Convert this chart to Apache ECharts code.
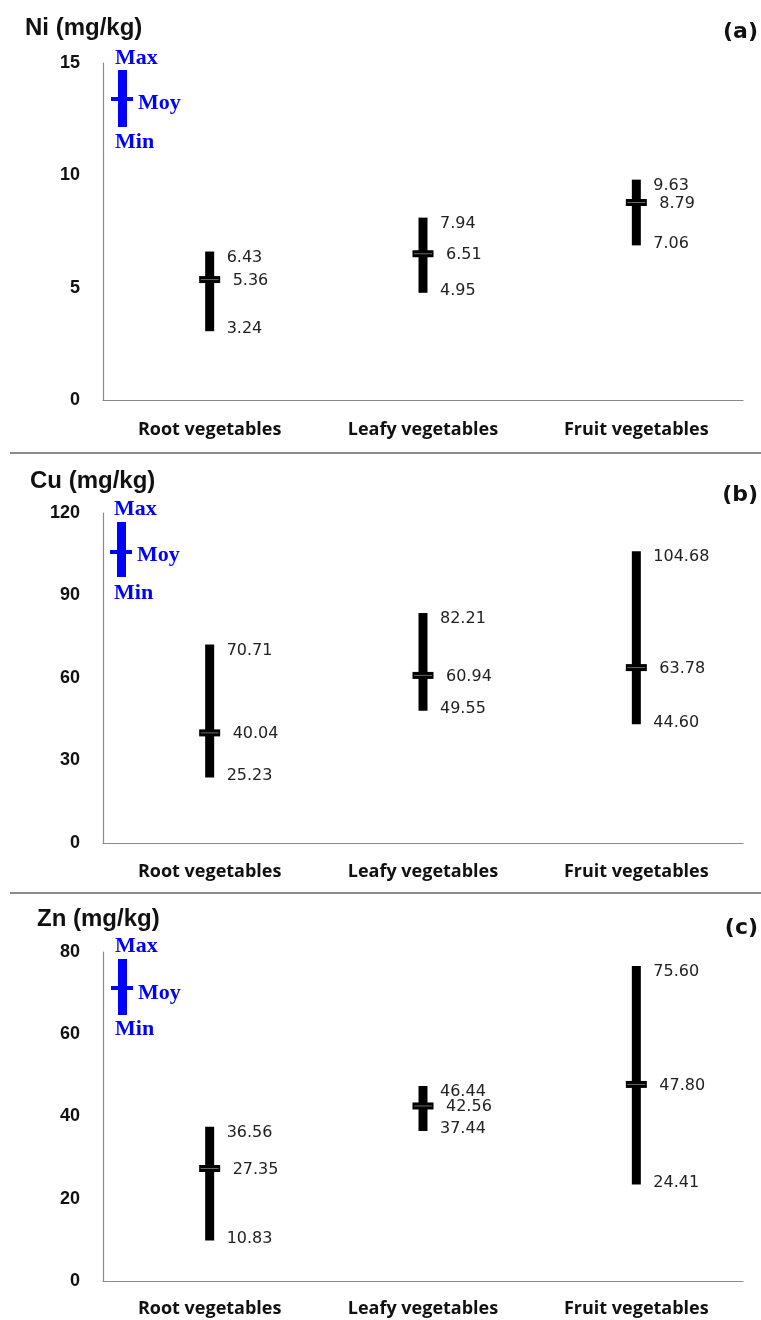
<!DOCTYPE html>
<html>
<head>
<meta charset="utf-8">
<script src="https://cdn.jsdelivr.net/npm/echarts@6/dist/echarts.min.js"></script>
<style>html,body{margin:0;padding:0;background:#fff}#c{width:761px;height:1320px}</style>
</head>
<body>
<div id="c"></div>
<script>
const categories = ['Root vegetables', 'Leafy vegetables', 'Fruit vegetables'];

const niMin  = [3.24, 4.95, 7.06];
const niMean = [5.36, 6.51, 8.79];
const niMax  = [6.43, 7.94, 9.63];

const cuMin  = [25.23, 49.55, 44.60];
const cuMean = [40.04, 60.94, 63.78];
const cuMax  = [70.71, 82.21, 104.68];

const znMin  = [10.83, 37.44, 24.41];
const znMean = [27.35, 42.56, 47.80];
const znMax  = [36.56, 46.44, 75.60];

const niAxis = {min: 0, max: 15, interval: 5};
const cuAxis = {min: 0, max: 120, interval: 30};
const znAxis = {min: 0, max: 80, interval: 20};

const panelTitles = ['Ni (mg/kg)', 'Cu (mg/kg)', 'Zn (mg/kg)'];
const panelTags = ['(a)', '(b)', '(c)'];

const panels = [
  {mins: niMin, means: niMean, maxs: niMax, axis: niAxis, top: 63, height: 337, labelMargin: 21,
   titleX: 25, titleY: 28, tagY: 32, leg: {barTop: 70, barBot: 127, tick: 99, maxY: 58, moyY: 103, minY: 142, x: 118}},
  {mins: cuMin, means: cuMean, maxs: cuMax, axis: cuAxis, top: 513, height: 330, labelMargin: 20,
   titleX: 30, titleY: 481, tagY: 495, leg: {barTop: 522, barBot: 577, tick: 552, maxY: 509, moyY: 555, minY: 593, x: 117}},
  {mins: znMin, means: znMean, maxs: znMax, axis: znAxis, top: 952, height: 329, labelMargin: 19,
   titleX: 37, titleY: 919, tagY: 928, leg: {barTop: 959, barBot: 1015, tick: 988, maxY: 946, moyY: 993, minY: 1029, x: 118}}
];

const grids = [], xAxes = [], yAxes = [], series = [], graphics = [];

panels.forEach((p, i) => {
  grids.push({left: 103, right: 18, top: p.top, height: p.height});
  xAxes.push({
    type: 'category', gridIndex: i, data: categories, boundaryGap: true,
    axisLine: {show: true, lineStyle: {color: '#8a8a8a', width: 1.2}},
    axisTick: {show: false},
    axisLabel: {margin: p.labelMargin, color: '#111', fontFamily: 'Open Sans', fontWeight: 'bold', fontSize: 18}
  });
  yAxes.push({
    type: 'value', gridIndex: i, min: p.axis.min, max: p.axis.max, interval: p.axis.interval,
    axisLine: {show: true, lineStyle: {color: '#8a8a8a', width: 1.2}},
    axisTick: {show: false}, splitLine: {show: false},
    axisLabel: {margin: 23, color: '#111', fontFamily: 'Liberation Sans', fontWeight: 'bold', fontSize: 18}
  });
  const data = categories.map((c, k) => [k, p.mins[k], p.means[k], p.maxs[k]]);
  series.push({
    type: 'custom', xAxisIndex: i, yAxisIndex: i, data: data, clip: false,
    renderItem: function (params, api) {
      const idx = api.value(0), mn = api.value(1), me = api.value(2), mx = api.value(3);
      const pMax = api.coord([idx, mx]);
      const pMin = api.coord([idx, mn]);
      const pMe = api.coord([idx, me]);
      const cx = pMax[0];
      const font = '16px "DejaVu Sans"';
      return {
        type: 'group',
        children: [
          {type: 'rect', shape: {x: cx - 4.5, y: pMax[1] - 4, width: 9, height: pMin[1] - pMax[1] + 8}, style: {fill: '#000'}},
          {type: 'rect', shape: {x: cx - 10.5, y: pMe[1] - 3.5, width: 21, height: 7}, style: {fill: '#000'}},
          {type: 'line', shape: {x1: cx - 9, y1: pMe[1], x2: cx + 9, y2: pMe[1]}, style: {stroke: '#6a6a6a', lineWidth: 1}},
          {type: 'text', style: {text: mx.toFixed(2), x: cx + 17, y: pMax[1] + 2, fill: '#222', font: font, align: 'left', verticalAlign: 'middle'}},
          {type: 'text', style: {text: me.toFixed(2), x: cx + 23, y: pMe[1] + 1, fill: '#222', font: font, align: 'left', verticalAlign: 'middle'}},
          {type: 'text', style: {text: mn.toFixed(2), x: cx + 17, y: pMin[1] + 2, fill: '#222', font: font, align: 'left', verticalAlign: 'middle'}}
        ]
      };
    }
  });

  // panel title and tag
  graphics.push({type: 'text', x: p.titleX, y: p.titleY, style: {text: panelTitles[i], font: 'bold 24px "Liberation Sans"', fill: '#111', align: 'left', verticalAlign: 'middle'}});
  graphics.push({type: 'text', x: 758, y: p.tagY, style: {text: panelTags[i], font: 'bold 22px "DejaVu Sans"', fill: '#111', align: 'right', verticalAlign: 'middle'}});

  // legend key
  const L = p.leg;
  const blue = '#0000ff';
  const lf = 'bold 22px "Liberation Serif"';
  graphics.push({type: 'rect', shape: {x: L.x, y: L.barTop, width: 9, height: L.barBot - L.barTop}, style: {fill: blue}});
  graphics.push({type: 'rect', shape: {x: L.x - 7, y: L.tick - 2, width: 22, height: 4}, style: {fill: blue}});
  graphics.push({type: 'text', x: L.x - 3, y: L.maxY, style: {text: 'Max', font: lf, fill: blue, align: 'left', verticalAlign: 'middle'}});
  graphics.push({type: 'text', x: L.x + 20, y: L.moyY, style: {text: 'Moy', font: lf, fill: blue, align: 'left', verticalAlign: 'middle'}});
  graphics.push({type: 'text', x: L.x - 3, y: L.minY, style: {text: 'Min', font: lf, fill: blue, align: 'left', verticalAlign: 'middle'}});
});

// separators between panels
[453, 893].forEach(y => {
  graphics.push({type: 'line', shape: {x1: 10, y1: y, x2: 761, y2: y}, style: {stroke: '#8a8a8a', lineWidth: 2}});
});

const chart = echarts.init(document.getElementById('c'), null, {renderer: 'canvas'});
chart.setOption({
  backgroundColor: '#fff',
  animation: false,
  grid: grids,
  xAxis: xAxes,
  yAxis: yAxes,
  series: series,
  graphic: graphics
});
</script>
</body>
</html>
